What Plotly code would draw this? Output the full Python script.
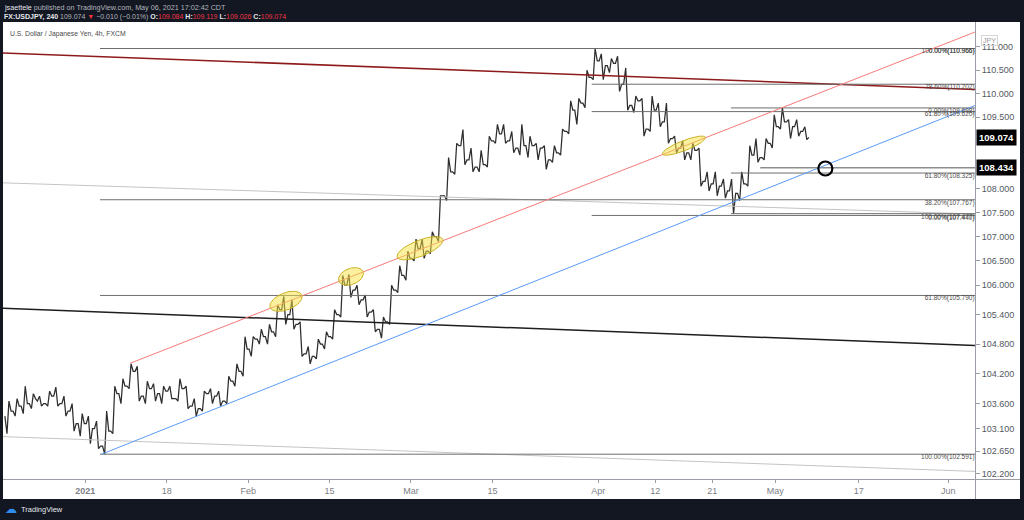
import numpy as np
import pandas as pd
import plotly.graph_objects as go

# ---------------- data ----------------
dates = pd.bdate_range("2020-12-21", "2021-05-06")        # trading days shown
day_index = list(range(-10, 89))                             # 0 = Mon 4 Jan 2021

opens = [103.35, 103.45, 103.55, 103.60, 103.65, 103.60, 103.75, 103.60, 103.45, 103.20,
         103.20, 103.10, 102.75, 103.05, 103.80, 103.95, 104.25, 103.75, 103.90, 103.80,
         103.85, 103.70, 103.90, 103.55, 103.50, 103.80, 103.75, 103.65, 104.05, 104.25,
         104.70, 104.90, 104.95, 105.05, 105.50, 105.40, 105.20, 104.60, 104.55, 104.80,
         104.95, 105.40, 106.00, 105.90, 105.70, 105.45, 105.10, 105.25, 105.90, 106.20,
         106.55, 106.75, 106.70, 107.00, 107.85, 108.35, 108.90, 108.60, 108.45, 108.50,
         109.00, 109.15, 109.00, 108.85, 108.90, 108.90, 108.85, 108.60, 108.75, 109.20,
         109.65, 109.80, 110.35, 110.70, 110.60, 110.65, 110.20, 109.75, 109.85, 109.25,
         109.65, 109.40, 109.05, 108.85, 108.75, 108.80, 108.15, 108.10, 108.05, 107.95,
         107.90, 108.10, 108.70, 108.65, 108.95, 109.30, 109.40, 109.30, 109.20]
highs = [103.65, 103.70, 103.95, 103.80, 103.75, 103.85, 103.93, 103.75, 103.60, 103.40,
         103.35, 103.25, 103.45, 103.95, 104.10, 104.40, 104.35, 104.05, 104.00, 103.95,
         103.95, 104.10, 103.95, 103.70, 103.85, 103.90, 103.85, 104.15, 104.40, 104.95,
         104.95, 105.10, 105.20, 105.60, 105.77, 105.70, 105.25, 104.75, 104.90, 105.05,
         105.50, 106.20, 106.22, 106.00, 105.80, 105.50, 105.35, 106.00, 106.40, 106.70,
         106.95, 106.95, 107.10, 107.85, 108.65, 108.95, 109.24, 108.85, 108.80, 109.10,
         109.35, 109.35, 109.20, 109.35, 109.10, 108.95, 108.90, 108.90, 109.25, 109.85,
         109.90, 110.50, 110.966, 110.85, 110.75, 110.80, 110.55, 109.95, 109.90, 109.95,
         109.80, 109.80, 109.10, 109.00, 108.95, 108.85, 108.35, 108.35, 108.20, 108.20,
         108.35, 108.90, 109.05, 109.05, 109.55, 109.70, 109.45, 109.45, 109.30]
lows = [103.00, 103.35, 103.40, 103.50, 103.55, 103.55, 103.55, 103.35, 103.05, 102.95,
        102.80, 102.70, 102.591, 103.00, 103.60, 103.90, 103.65, 103.60, 103.65, 103.60,
        103.70, 103.65, 103.50, 103.35, 103.45, 103.60, 103.55, 103.60, 103.95, 104.15,
        104.55, 104.80, 104.80, 104.95, 105.20, 105.10, 104.55, 104.40, 104.50, 104.70,
        104.90, 105.35, 105.75, 105.60, 105.35, 105.05, 104.92, 105.20, 105.85, 106.10,
        106.50, 106.55, 106.65, 106.90, 107.75, 108.30, 108.50, 108.35, 108.35, 108.45,
        108.95, 108.95, 108.75, 108.70, 108.65, 108.60, 108.40, 108.55, 108.70, 109.15,
        109.35, 109.70, 110.30, 110.30, 110.45, 110.05, 109.65, 109.60, 109.10, 109.20,
        109.30, 108.95, 108.75, 108.60, 108.60, 108.05, 107.95, 107.85, 107.80, 107.477,
        107.75, 108.05, 108.55, 108.60, 108.85, 109.25, 109.05, 109.10, 109.026]
closes = [103.45, 103.55, 103.60, 103.70, 103.60, 103.75, 103.60, 103.45, 103.20, 103.20,
          103.10, 102.75, 103.05, 103.80, 103.95, 104.25, 103.75, 103.90, 103.80, 103.85,
          103.70, 103.90, 103.55, 103.50, 103.80, 103.75, 103.65, 104.05, 104.25, 104.70,
          104.90, 104.95, 105.05, 105.50, 105.40, 105.20, 104.60, 104.55, 104.80, 104.95,
          105.40, 106.00, 105.90, 105.70, 105.45, 105.10, 105.25, 105.90, 106.20, 106.55,
          106.75, 106.70, 107.00, 107.85, 108.35, 108.90, 108.60, 108.45, 108.50, 109.00,
          109.15, 109.00, 108.85, 108.90, 108.90, 108.85, 108.60, 108.75, 109.20, 109.65,
          109.80, 110.35, 110.70, 110.60, 110.65, 110.20, 109.75, 109.85, 109.25, 109.65,
          109.40, 109.05, 108.85, 108.75, 108.80, 108.15, 108.10, 108.05, 107.95, 107.90,
          108.10, 108.70, 108.65, 108.95, 109.30, 109.40, 109.30, 109.20, 109.074]

price_ticks = [111.0, 110.5, 110.0, 109.5, 108.0, 107.5, 107.0, 106.5, 106.0,
               105.4, 104.8, 104.2, 103.6, 103.1, 102.65, 102.2]
time_tick_days = [0, 10, 20, 30, 40, 50, 63, 70, 77, 84.75, 95, 106]
time_tick_labels = ["<b>2021</b>", "18", "Feb", "15", "Mar", "15", "Apr", "12", "21", "May", "17", "Jun"]

# trend lines: (day, price) end points
red_line = [(5.49, 104.41), (109.28, 111.32)]
blue_line = [(2.0, 102.591), (109.28, 109.75)]
maroon_line = [(-10.11, 110.87), (109.28, 110.09)]
black_line = [(-10.11, 105.53), (109.28, 104.77)]
gray_upper_line = [(-10.11, 108.12), (109.28, 107.47)]
gray_lower_line = [(-10.11, 102.94), (109.28, 102.25)]

# fibonacci tools: start day, levels, labels
fibA_start = 1.8
fibA_levels = [110.966, 107.767, 105.790, 102.591]
fibA_labels = ["0.00%(110.966)", "38.20%(107.767)", "61.80%(105.790)", "100.00%(102.591)"]
fibB_start = 62.2
fibB_levels = [110.966, 110.202, 109.620, 107.440]
fibB_labels = ["100.00%(110.966)", "78.60%(110.202)", "61.80%(109.620)", "0.00%(107.440)"]
fibC_start = 79.3
fibC_levels = [109.698, 108.325, 107.477]
fibC_labels = ["0.00%(109.698)", "61.80%(108.325)", "100.00%(107.477)"]
ray_start = 82.9
ray_level = 108.434
last_price = 109.074

ellipse_centers = [(24.65, 105.67), (32.63, 106.18), (41.11, 106.76), (73.53, 108.90)]
circle_point = (90.9, 108.42)

# ---------------- geometry / style ----------------
W, H = 1024, 520
PL, PR, PT, PB = 3, 975, 23, 479
x_range = [-10.11, 109.28]
y_range = [102.10, 111.515]
px_per_day = (PR - PL) / (x_range[1] - x_range[0])
px_per_log = (PB - PT) / (np.log10(y_range[1]) - np.log10(y_range[0]))
FONT = "Liberation Sans"
DARK = "#131722"

fig = go.Figure()

# price path: each day's bar drawn as open -> extreme -> extreme -> close
px_x, px_y = [], []
for d, o, h, l, c in zip(day_index, opens, highs, lows, closes):
    first, second = (l, h) if c >= o else (h, l)
    px_x += [d + 0.12, d + 0.38, d + 0.62, d + 0.88]
    px_y += [o, first, second, c]
fig.add_trace(go.Scatter(x=px_x, y=px_y, mode="lines", line=dict(color="#2e2e2e", width=1.25),
                         hoverinfo="skip", showlegend=False))


def add_line(pts, color, width):
    fig.add_trace(go.Scatter(x=[p[0] for p in pts], y=[p[1] for p in pts], mode="lines",
                             line=dict(color=color, width=width), hoverinfo="skip",
                             showlegend=False))


add_line(gray_upper_line, "#c4c4c4", 1)
add_line(gray_lower_line, "#c4c4c4", 1)
add_line(maroon_line, "#8e1b1b", 1.6)
add_line(black_line, "#1e1e1e", 1.5)


def add_levels(start, levels, color):
    xs, ys = [], []
    for lv in levels:
        xs += [start, x_range[1], None]
        ys += [lv, lv, None]
    fig.add_trace(go.Scatter(x=xs, y=ys, mode="lines", line=dict(color=color, width=1),
                             hoverinfo="skip", showlegend=False))


add_levels(fibA_start, fibA_levels, "#6e6e6e")
add_levels(fibB_start, fibB_levels, "#6e6e6e")
add_levels(fibC_start, fibC_levels, "#6e6e6e")
add_levels(ray_start, [ray_level], "#555555")

add_line(red_line, "#f47b7b", 1)
add_line(blue_line, "#5b9cf6", 1)

# ellipses (rotated along the red line)
theta = np.arctan2((np.log10(red_line[1][1]) - np.log10(red_line[0][1])) * px_per_log,
                   (red_line[1][0] - red_line[0][0]) * px_per_day)
ell_axes = [(17, 8.5), (13, 8), (24.5, 8), (23, 5)]
t = np.linspace(0, 2 * np.pi, 80)
for (dc, pc), (a, b) in zip(ellipse_centers, ell_axes):
    dx = a * np.cos(theta) * np.cos(t) - b * np.sin(theta) * np.sin(t)
    dy = a * np.sin(theta) * np.cos(t) + b * np.cos(theta) * np.sin(t)
    fig.add_trace(go.Scatter(x=dc + dx / px_per_day, y=10 ** (np.log10(pc) + dy / px_per_log),
                             mode="lines", fill="toself", fillcolor="rgba(245,225,60,0.5)",
                             line=dict(color="#c9b227", width=1), hoverinfo="skip",
                             showlegend=False))

fig.add_trace(go.Scatter(x=[circle_point[0]], y=[circle_point[1]], mode="markers",
                         marker=dict(symbol="circle-open", size=14, color="#000000",
                                     line=dict(width=2.2, color="#000000")),
                         hoverinfo="skip", showlegend=False))

# fib labels
lab_x, lab_y, lab_t = [], [], []
for lvls, labs in ((fibA_levels, fibA_labels), (fibB_levels, fibB_labels), (fibC_levels, fibC_labels)):
    for lv, lb in zip(lvls, labs):
        lab_x.append(x_range[1] - 0.05)
        lab_y.append(lv)
        lab_t.append(lb)
fig.add_trace(go.Scatter(x=lab_x, y=lab_y, mode="text", text=lab_t, textposition="bottom left",
                         textfont=dict(family=FONT, size=6.5, color="#4d4d4d"),
                         hoverinfo="skip", showlegend=False, cliponaxis=False))

annotations = []
for val in (last_price, ray_level):
    annotations.append(dict(xref="paper", yref="y", x=976 / W, y=np.log10(val), xanchor="left",
                            yanchor="middle", text="<b>%.3f</b>" % val, showarrow=False,
                            bgcolor="#000000", font=dict(family=FONT, size=9.5, color="#ffffff"),
                            borderpad=2))
annotations.append(dict(xref="paper", yref="paper", x=998 / W, y=1 - 35 / H, text="JPY",
                        showarrow=False, font=dict(family=FONT, size=7, color="#9a9a9a"),
                        bordercolor="#d6d6d6", borderwidth=1, borderpad=1))
annotations.append(dict(
    xref="paper", yref="paper", x=2 / W, y=1 - 7.5 / H, xanchor="left", yanchor="middle",
    showarrow=False, font=dict(family=FONT, size=7.2, color="#b2b5be"),
    text='<span style="color:#e6e8ee">jsaettele</span> published on TradingView.com, May 06, 2021 17:02:42 CDT'))
R = "#f23645"
annotations.append(dict(
    xref="paper", yref="paper", x=2 / W, y=1 - 17.5 / H, xanchor="left", yanchor="middle",
    showarrow=False, font=dict(family=FONT, size=7, color="#b2b5be"),
    text=('<b><span style="color:#e6e8ee">FX:USDJPY, 240</span></b> 109.074 '
          '<span style="color:%s">▼</span> −0.010 (−0.01%%) '
          '<b><span style="color:#e6e8ee">O:</span></b><span style="color:%s">109.084</span> '
          '<b><span style="color:#e6e8ee">H:</span></b><span style="color:%s">109.119</span> '
          '<b><span style="color:#e6e8ee">L:</span></b><span style="color:%s">109.026</span> '
          '<b><span style="color:#e6e8ee">C:</span></b><span style="color:%s">109.074</span>') % (R, R, R, R, R)))
annotations.append(dict(xref="paper", yref="paper", x=8 / W, y=1 - 34 / H, xanchor="left",
                        yanchor="middle", showarrow=False,
                        font=dict(family=FONT, size=6.8, color="#4a4a4a"),
                        text="U.S. Dollar / Japanese Yen, 4h, FXCM"))
annotations.append(dict(xref="paper", yref="paper", x=3 / W, y=1 - 509 / H, xanchor="left",
                        yanchor="middle", showarrow=False,
                        font=dict(family="DejaVu Sans", size=12, color="#2f8cf0"), text="☁"))
annotations.append(dict(xref="paper", yref="paper", x=19 / W, y=1 - 509 / H, xanchor="left",
                        yanchor="middle", showarrow=False,
                        font=dict(family=FONT, size=7.5, color="#e6e8ee"), text="TradingView"))

shapes = [
    dict(type="rect", xref="paper", yref="paper", x0=3 / W, x1=1020 / W, y0=1 - 499 / H,
         y1=1 - 22 / H, fillcolor="#ffffff", line=dict(width=0), layer="below"),
    dict(type="line", xref="paper", yref="paper", x0=3 / W, x1=1020 / W, y0=1 - 479.5 / H,
         y1=1 - 479.5 / H, line=dict(color="#9a9da6", width=1)),
    dict(type="line", xref="paper", yref="paper", x0=975.5 / W, x1=975.5 / W, y0=1 - 499 / H,
         y1=1 - 22 / H, line=dict(color="#9a9da6", width=1)),
]

fig.update_layout(
    width=W, height=H, autosize=False, margin=dict(l=0, r=0, t=0, b=0),
    paper_bgcolor=DARK, plot_bgcolor="#ffffff", showlegend=False,
    font=dict(family=FONT),
    xaxis=dict(domain=[PL / W, PR / W], range=x_range, showgrid=False, zeroline=False,
               showline=False, tickmode="array", tickvals=time_tick_days,
               ticktext=time_tick_labels, ticks="outside", ticklen=3, tickcolor="#9a9da6",
               tickfont=dict(family=FONT, size=9, color="#7d7f87"), fixedrange=True),
    yaxis=dict(domain=[1 - PB / H, 1 - PT / H], type="log",
               range=[np.log10(y_range[0]), np.log10(y_range[1])], side="right",
               showgrid=False, zeroline=False, showline=False, tickmode="array",
               tickvals=price_ticks, ticktext=["%.3f" % v for v in price_ticks],
               ticks="outside", ticklen=4, tickcolor="#9a9da6",
               tickfont=dict(family=FONT, size=9, color="#55585f"), fixedrange=True),
    annotations=annotations, shapes=shapes,
)

fig.write_html("out.html", config={"displayModeBar": False},
               post_script="document.body.style.margin='0px';document.body.style.overflow='hidden';")
